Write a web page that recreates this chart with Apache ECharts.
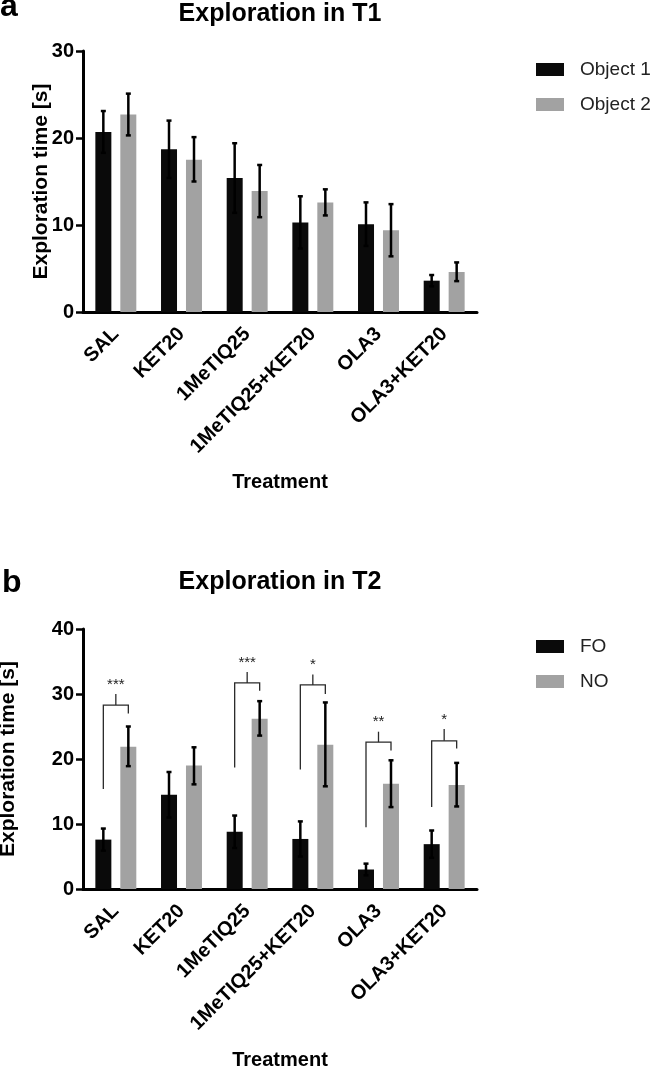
<!DOCTYPE html>
<html>
<head>
<meta charset="utf-8">
<script src="https://cdn.jsdelivr.net/npm/echarts@6/dist/echarts.min.js"></script>
<style>
html,body{margin:0;padding:0;background:#fff;}
#chart{width:657px;height:1067px;}
</style>
</head>
<body>
<div id="chart"></div>
<script>
// ---- data ----
const categories = ['SAL', 'KET20', '1MeTIQ25', '1MeTIQ25+KET20', 'OLA3', 'OLA3+KET20'];
const yTicksT1 = [0, 10, 20, 30];
const yTicksT2 = [0, 10, 20, 30, 40];

// Panel a: Exploration in T1
const object1Mean  = [20.7, 18.7, 15.4, 10.3, 10.1, 3.6];
const object1Upper = [23.1, 22.0, 19.4, 13.3, 12.6, 4.25];
const object1Lower = [18.3, 15.4, 11.4, 7.3, 7.6, 2.95];
const object2Mean  = [22.7, 17.5, 13.9, 12.6, 9.4, 4.6];
const object2Upper = [25.1, 20.1, 16.9, 14.1, 12.4, 5.7];
const object2Lower = [20.3, 15.0, 10.9, 11.1, 6.4, 3.55];

// Panel b: Exploration in T2
const foMean  = [7.6, 14.5, 8.8, 7.7, 3.0, 6.9];
const foUpper = [9.3, 18.0, 11.3, 10.4, 3.9, 9.0];
const foLower = [5.9, 11.0, 6.3, 5.0, 2.1, 4.8];
const noMean  = [21.9, 19.0, 26.2, 22.2, 16.2, 16.0];
const noUpper = [25.0, 21.8, 28.9, 28.7, 19.8, 19.4];
const noLower = [18.9, 16.1, 23.6, 15.8, 12.6, 12.7];

// significance brackets: [category index, left foot, bracket top, right foot, stem top, label]
const brackets = [
  [0, 15.4, 28.3, 27.0, 30.0, '***'],
  [2, 18.7, 31.7, 30.5, 33.4, '***'],
  [3, 18.4, 31.4, 30.0, 33.0, '*'],
  [4, 9.5, 22.6, 21.3, 24.2, '**'],
  [5, 12.6, 22.8, 21.6, 24.6, '*']
];

// ---- styling ----
const FONT = 'Liberation Sans, Arial, Helvetica, sans-serif';
const BLACK = '#0a0a0a';
const GREY = '#a2a2a2';
const BAR_W = 16;
const HALF_SPACING = 12.5; // half distance between the two bar centers in a group

function errData(lo, hi) { return lo.map((v, i) => [i, v, hi[i]]); }

function errRender(sign) {
  return function (params, api) {
    const c = api.value(0);
    const lo = api.coord([c, api.value(1)]);
    const hi = api.coord([c, api.value(2)]);
    const x = lo[0] + sign * HALF_SPACING;
    const cap = 2.5;
    const st = { stroke: '#000', lineWidth: 2.5 };
    return {
      type: 'group',
      children: [
        { type: 'line', shape: { x1: x, y1: lo[1], x2: x, y2: hi[1] }, style: st },
        { type: 'line', shape: { x1: x - cap, y1: hi[1], x2: x + cap, y2: hi[1] }, style: st },
        { type: 'line', shape: { x1: x - cap, y1: lo[1], x2: x + cap, y2: lo[1] }, style: st }
      ]
    };
  };
}

function bracketRender(params, api) {
  const c = api.value(0);
  const pL = api.coord([c, api.value(1)]);
  const pT = api.coord([c, api.value(2)]);
  const pR = api.coord([c, api.value(3)]);
  const pS = api.coord([c, api.value(4)]);
  const cx = pL[0];
  const xl = cx - HALF_SPACING, xr = cx + HALF_SPACING;
  const st = { stroke: '#2a2a2a', lineWidth: 1.3, fill: null };
  return {
    type: 'group',
    children: [
      { type: 'polyline', shape: { points: [[xl, pL[1]], [xl, pT[1]], [xr, pT[1]], [xr, pR[1]]] }, style: st },
      { type: 'line', shape: { x1: cx, y1: pT[1], x2: cx, y2: pS[1] }, style: st },
      { type: 'text', x: cx, y: pS[1] - 2, style: {
          text: brackets[params.dataIndex][5], fill: '#222', font: '15px ' + FONT,
          textAlign: 'center', textVerticalAlign: 'bottom' } }
    ]
  };
}

const GRID_LEFT = 83, GRID_RIGHT = 180;

function xAxis(gi, gap) {
  return {
    type: 'category', gridIndex: gi, data: categories,
    axisLine: { lineStyle: { color: '#000', width: 3 } },
    axisTick: { alignWithLabel: true, length: 8, lineStyle: { color: '#000', width: 2.5 } },
    axisLabel: { rotate: 45, margin: 19, color: '#000', fontWeight: 'bold', fontSize: 20, fontFamily: FONT },
    name: 'Treatment', nameLocation: 'middle', nameGap: gap, nameMoveOverlap: false,
    nameTextStyle: { color: '#000', fontWeight: 'bold', fontSize: 20, fontFamily: FONT }
  };
}
function yAxis(gi, ticks, gap) {
  return {
    type: 'value', gridIndex: gi, min: ticks[0], max: ticks[ticks.length - 1], interval: ticks[1] - ticks[0],
    splitLine: { show: false },
    axisLine: { show: true, lineStyle: { color: '#000', width: 3 } },
    axisTick: { show: true, length: 7, lineStyle: { color: '#000', width: 2.5 } },
    axisLabel: { margin: 9, color: '#000', fontWeight: 'bold', fontSize: 20, fontFamily: FONT },
    name: 'Exploration time [s]', nameLocation: 'middle', nameGap: gap, nameMoveOverlap: false,
    nameTextStyle: { color: '#000', fontWeight: 'bold', fontSize: 21, fontFamily: FONT }
  };
}
function bar(name, data, color, gi) {
  return { type: 'bar', name: name, data: data, xAxisIndex: gi, yAxisIndex: gi,
    barWidth: BAR_W, barGap: '56%', itemStyle: { color: color }, animation: false, z: 2 };
}
function err(data, sign, gi) {
  return { type: 'custom', data: data, xAxisIndex: gi, yAxisIndex: gi, renderItem: errRender(sign),
    z: 5, animation: false, silent: true };
}
function legend(top, names) {
  return {
    orient: 'vertical', left: 536, top: top, padding: 0, itemWidth: 28, itemHeight: 13, itemGap: 16,
    data: names.map(n => ({ name: n, icon: 'rect' })),
    textStyle: { color: '#222', fontSize: 19, fontFamily: FONT, padding: [0, 0, 0, 11] }
  };
}

const chart = echarts.init(document.getElementById('chart'), null, { renderer: 'canvas' });
chart.setOption({
  backgroundColor: '#fff',
  animation: false,
  title: [
    { text: 'a', left: 0, top: -9, padding: 0, textStyle: { fontSize: 32, fontWeight: 'bold', color: '#000', fontFamily: FONT } },
    { text: 'Exploration in T1', left: 280, top: 2, padding: 0, textAlign: 'center', textStyle: { fontSize: 25, fontWeight: 'bold', color: '#000', fontFamily: FONT } },
    { text: 'b', left: 2, top: 567, padding: 0, textStyle: { fontSize: 32, fontWeight: 'bold', color: '#000', fontFamily: FONT } },
    { text: 'Exploration in T2', left: 280, top: 570, padding: 0, textAlign: 'center', textStyle: { fontSize: 25, fontWeight: 'bold', color: '#000', fontFamily: FONT } }
  ],
  legend: [legend(60, ['Object 1', 'Object 2']), legend(637, ['FO', 'NO'])],
  grid: [
    { left: GRID_LEFT, right: GRID_RIGHT, top: 51, height: 261, outerBoundsMode: 'none', containLabel: false },
    { left: GRID_LEFT, right: GRID_RIGHT, top: 629, height: 260, outerBoundsMode: 'none', containLabel: false }
  ],
  xAxis: [xAxis(0, 160), xAxis(1, 161)],
  yAxis: [yAxis(0, yTicksT1, 31), yAxis(1, yTicksT2, 64)],
  series: [
    bar('Object 1', object1Mean, BLACK, 0),
    bar('Object 2', object2Mean, GREY, 0),
    err(errData(object1Lower, object1Upper), -1, 0),
    err(errData(object2Lower, object2Upper), 1, 0),
    bar('FO', foMean, BLACK, 1),
    bar('NO', noMean, GREY, 1),
    err(errData(foLower, foUpper), -1, 1),
    err(errData(noLower, noUpper), 1, 1),
    { type: 'custom', xAxisIndex: 1, yAxisIndex: 1, data: brackets.map(b => [b[0], b[1], b[2], b[3], b[4]]),
      renderItem: bracketRender, z: 6, animation: false, silent: true, clip: false }
  ]
});
</script>
</body>
</html>
